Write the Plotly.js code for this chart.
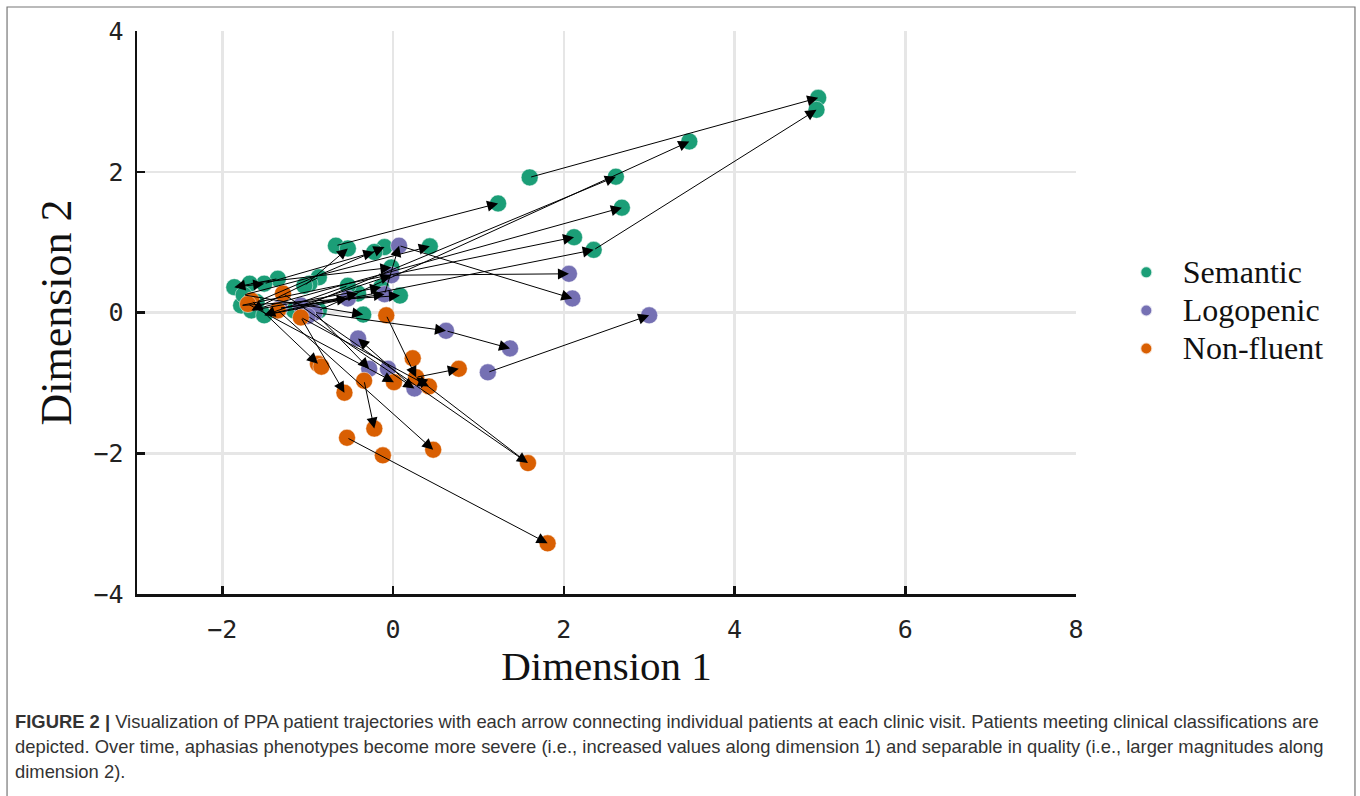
<!DOCTYPE html>
<html>
<head>
<meta charset="utf-8">
<script src="https://cdn.plot.ly/plotly-3.0.1.min.js"></script>
<style>
html,body{margin:0;padding:0;background:#fff;}
#chart{width:1360px;height:796px;}
</style>
</head>
<body>
<div id="chart"></div>
<script>
// ---- Data ----
var semanticX = [4.98, 4.96, 3.47, 2.61, 1.60, 2.68, 1.23, 2.12, 2.35, 0.43, -0.10, -0.22, -0.67, -0.53, -0.02, -0.14, 0.08, -0.41, -0.53, -0.87, -0.98, -1.04, -1.35, -1.51, -1.68, -1.86, -1.78, -1.66, -1.51, -1.16, -0.87, -0.35, -1.75, -1.60];
var semanticY = [3.05, 2.88, 2.43, 1.93, 1.92, 1.49, 1.55, 1.07, 0.89, 0.94, 0.93, 0.86, 0.95, 0.91, 0.64, 0.36, 0.24, 0.27, 0.38, 0.50, 0.41, 0.38, 0.48, 0.41, 0.41, 0.36, 0.10, 0.03, -0.04, 0.03, 0.03, -0.03, 0.25, 0.15];

var logopenicX = [0.07, -0.02, -0.10, -0.53, 2.06, 2.10, 3.00, 0.62, 1.37, 1.11, -0.41, -0.28, -0.06, 0.25, -1.33, -1.08, -0.92, -1.00];
var logopenicY = [0.95, 0.53, 0.26, 0.20, 0.55, 0.20, -0.04, -0.26, -0.51, -0.85, -0.37, -0.80, -0.80, -1.08, 0.06, 0.10, 0.00, -0.05];

var nonfluentX = [-0.08, 0.23, 0.27, 0.77, 0.42, 0.01, -0.34, -0.88, -0.84, -0.57, -0.22, -0.54, -0.12, 0.47, 1.58, 1.81, -1.66, -1.29, -1.35, -1.08, -1.70];
var nonfluentY = [-0.04, -0.65, -0.92, -0.80, -1.05, -0.99, -0.97, -0.73, -0.77, -1.14, -1.65, -1.78, -2.03, -1.95, -2.14, -3.28, 0.17, 0.27, 0.03, -0.07, 0.12];

// Arrows: each from (fromX, fromY) at one visit to (toX, toY) at the next visit
var fromX = [1.60, 2.35, -0.87, -1.16, -1.66, -1.78, -1.51, -0.67, -1.75, -1.60, -1.04, -1.51, -1.86, -1.35, -0.87, -0.53, -1.68, -1.66, -1.78, -1.51, -1.75,
             -0.10, 0.07, -0.02, -1.08, -1.33, -0.92, 0.62, 1.11, -1.00, -0.92, 0.25, -1.33,
             -1.66, -1.08, -0.34, -0.54, -1.29, 1.58, -0.08, 0.27, -1.08, -1.70, -1.35];
var fromY = [1.92, 0.89, 0.03, 0.03, 0.03, 0.10, -0.04, 0.95, 0.25, 0.15, 0.38, 0.41, 0.36, 0.48, 0.50, 0.38, 0.41, 0.03, 0.10, -0.04, 0.25,
             0.26, 0.95, 0.53, 0.10, 0.06, 0.00, -0.26, -0.85, -0.05, 0.00, -1.08, 0.06,
             0.17, -0.07, -0.97, -1.78, 0.27, -2.14, -0.04, -0.92, -0.07, 0.12, 0.03];
var toX = [4.98, 4.96, 3.47, 2.61, 2.68, 2.12, 2.35, 1.23, 0.43, -0.10, -0.53, -0.22, -1.51, -1.86, -1.66, -1.51, -0.02, -0.14, 0.08, -0.41, -0.35,
           0.07, 2.10, 2.06, -0.02, -0.53, 0.62, 1.37, 3.00, 0.25, -0.28, -0.41, -0.10,
           -0.88, -0.57, -0.22, 1.81, 1.58, 0.27, 0.27, 0.77, 0.42, 0.01, 0.47];
var toY = [3.05, 2.88, 2.43, 1.93, 1.49, 1.07, 0.89, 1.55, 0.94, 0.93, 0.91, 0.86, 0.41, 0.36, 0.03, -0.04, 0.64, 0.36, 0.24, 0.27, -0.03,
           0.95, 0.20, 0.55, 0.53, 0.20, -0.26, -0.51, -0.04, -1.08, -0.80, -0.37, 0.26,
           -0.73, -1.14, -1.65, -3.28, -2.14, -0.92, -0.92, -0.80, -1.05, -0.99, -1.95];

var groupNames = ["Semantic", "Logopenic", "Non-fluent"];
var groupColors = ["#1b9e77", "#7570b3", "#d95f02"];

var captionLines = [
  "<b>FIGURE 2 |</b> Visualization of PPA patient trajectories with each arrow connecting individual patients at each clinic visit. Patients meeting clinical classifications are",
  "depicted. Over time, aphasias phenotypes become more severe (i.e., increased values along dimension 1) and separable in quality (i.e., larger magnitudes along",
  "dimension 2)."
];

// ---- Traces ----
var xs = [semanticX, logopenicX, nonfluentX];
var ys = [semanticY, logopenicY, nonfluentY];
var traces = groupNames.map(function (name, i) {
  return {
    type: "scatter", mode: "markers",
    name: "<span style='font-size:32px'>" + name + "</span>",
    x: xs[i], y: ys[i],
    marker: {color: groupColors[i], size: 17, line: {color: "rgba(255,255,255,0.8)", width: 0.6}},
    hoverinfo: "x+y"
  };
});

var annotations = [];
for (var k = 0; k < fromX.length; k++) {
  annotations.push({
    x: toX[k], y: toY[k], ax: fromX[k], ay: fromY[k],
    xref: "x", yref: "y", axref: "x", ayref: "y",
    text: "", showarrow: true, arrowhead: 2, arrowsize: 2.2, arrowwidth: 1,
    arrowcolor: "#000", standoff: 0, startstandoff: 0
  });
}
var capY = [-0.2256, -0.2700, -0.3144];
captionLines.forEach(function (t, i) {
  annotations.push({
    xref: "paper", yref: "paper", x: -0.132, y: capY[i], xanchor: "left", yanchor: "middle",
    text: t, showarrow: false, align: "left",
    font: {family: "Liberation Sans Narrow, Arial Narrow, Liberation Sans, sans-serif", size: 18.4, color: "#333"}
  });
});

var tickFont = {family: "DejaVu Sans Mono, monospace", size: 25, color: "#222"};

var layout = {
  width: 1360, height: 796,
  margin: {l: 137, r: 284, t: 31, b: 202},
  paper_bgcolor: "#fff", plot_bgcolor: "#fff",
  showlegend: true,
  legend: {
    x: 1.036, y: 0.503, xanchor: "left", yanchor: "middle",
    font: {family: "Liberation Serif, DejaVu Serif, serif", size: 27, color: "#111"},
    itemsizing: "constant", itemwidth: 63, tracegroupgap: 0
  },
  xaxis: {
    range: [-3, 8], tickvals: [-2, 0, 2, 4, 6, 8], ticktext: ["\u22122", "0", "2", "4", "6", "8"],
    showline: true, linecolor: "#111", linewidth: 2.5, mirror: false,
    ticks: "inside", ticklen: 8, tickwidth: 2.5, tickcolor: "#111",
    showgrid: true, gridcolor: "#e6e6e6", gridwidth: 2.5, zeroline: false,
    tickfont: tickFont, automargin: false, ticklabelstandoff: 11,
    title: {text: "Dimension 1", font: {family: "Liberation Serif, DejaVu Serif, serif", size: 41, color: "#111"}, standoff: 0}
  },
  yaxis: {
    range: [-4, 4], tickvals: [-4, -2, 0, 2, 4], ticktext: ["\u22124", "\u22122", "0", "2", "4"],
    showline: true, linecolor: "#111", linewidth: 2.5, mirror: false,
    ticks: "inside", ticklen: 8, tickwidth: 2.5, tickcolor: "#111",
    showgrid: true, gridcolor: "#e6e6e6", gridwidth: 2.5, zeroline: false,
    tickfont: tickFont, automargin: false, ticklabelstandoff: 6,
    title: {text: "Dimension 2", font: {family: "Liberation Serif, DejaVu Serif, serif", size: 44, color: "#111"}, standoff: 8}
  },
  annotations: annotations,
  shapes: [{
    type: "path", xref: "paper", yref: "paper",
    path: "M -0.1384,-0.40 L -0.1384,1.0426 L 1.2971,1.0426 L 1.2971,-0.40",
    line: {color: "#777", width: 1.2}, fillcolor: "rgba(0,0,0,0)"
  }]
};

Plotly.newPlot("chart", traces, layout, {displayModeBar: false, staticPlot: true});
</script>
</body>
</html>
